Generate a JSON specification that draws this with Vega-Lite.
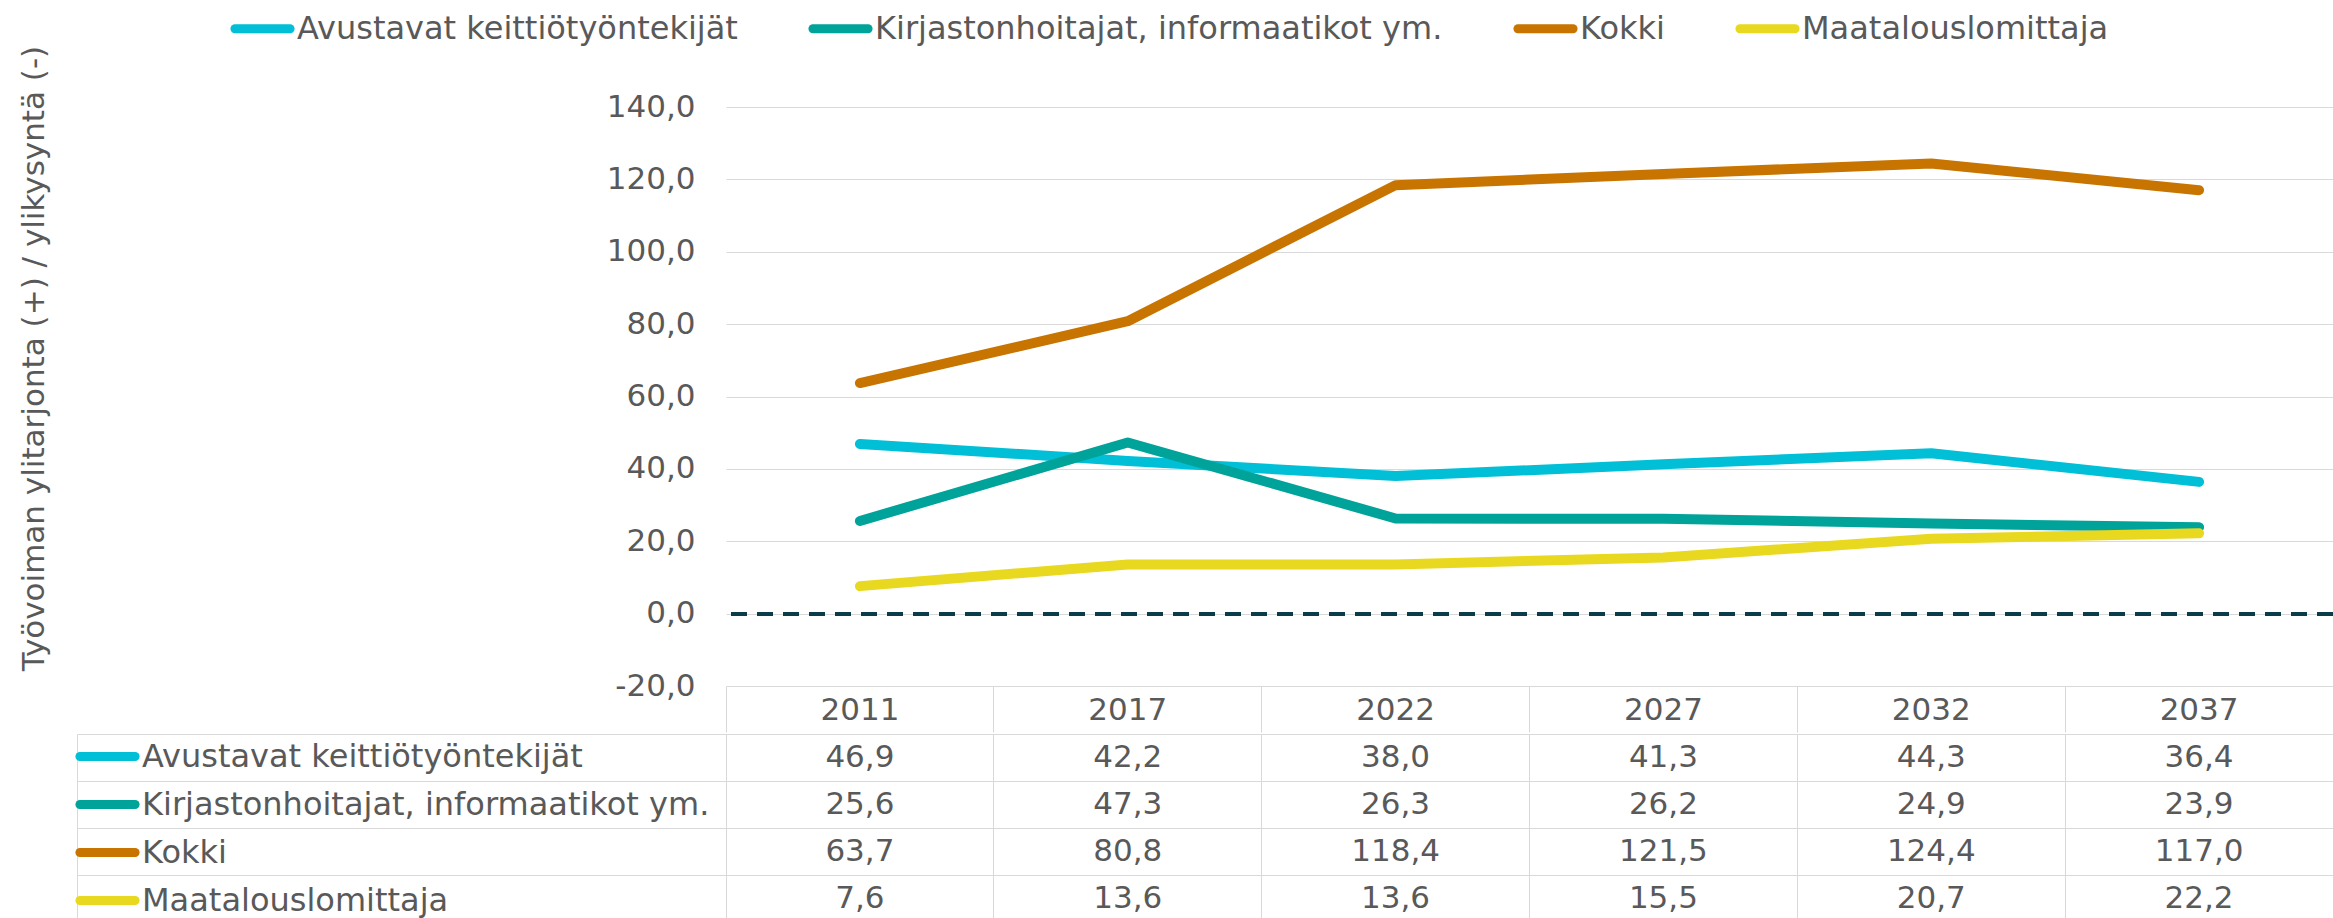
{
  "$schema": "https://vega.github.io/schema/vega-lite/v6.json",
  "padding": {"left": 18, "top": 10, "right": 0, "bottom": 0},
  "background": "white",
  "spacing": 0,
  "config": {
    "locale": {"number": {"decimal": ",", "thousands": " ", "grouping": [3], "currency": ["", " €"], "minus": "-"}},
    "view": {"stroke": null},
    "font": "DejaVu Sans"
  },
  "datasets": {
    "d": [
      {"series": "Avustavat keittiötyöntekijät", "year": "2011", "value": 46.9},
      {"series": "Avustavat keittiötyöntekijät", "year": "2017", "value": 42.2},
      {"series": "Avustavat keittiötyöntekijät", "year": "2022", "value": 38.0},
      {"series": "Avustavat keittiötyöntekijät", "year": "2027", "value": 41.3},
      {"series": "Avustavat keittiötyöntekijät", "year": "2032", "value": 44.3},
      {"series": "Avustavat keittiötyöntekijät", "year": "2037", "value": 36.4},
      {"series": "Kirjastonhoitajat, informaatikot ym.", "year": "2011", "value": 25.6},
      {"series": "Kirjastonhoitajat, informaatikot ym.", "year": "2017", "value": 47.3},
      {"series": "Kirjastonhoitajat, informaatikot ym.", "year": "2022", "value": 26.3},
      {"series": "Kirjastonhoitajat, informaatikot ym.", "year": "2027", "value": 26.2},
      {"series": "Kirjastonhoitajat, informaatikot ym.", "year": "2032", "value": 24.9},
      {"series": "Kirjastonhoitajat, informaatikot ym.", "year": "2037", "value": 23.9},
      {"series": "Kokki", "year": "2011", "value": 63.7},
      {"series": "Kokki", "year": "2017", "value": 80.8},
      {"series": "Kokki", "year": "2022", "value": 118.4},
      {"series": "Kokki", "year": "2027", "value": 121.5},
      {"series": "Kokki", "year": "2032", "value": 124.4},
      {"series": "Kokki", "year": "2037", "value": 117.0},
      {"series": "Maatalouslomittaja", "year": "2011", "value": 7.6},
      {"series": "Maatalouslomittaja", "year": "2017", "value": 13.6},
      {"series": "Maatalouslomittaja", "year": "2022", "value": 13.6},
      {"series": "Maatalouslomittaja", "year": "2027", "value": 15.5},
      {"series": "Maatalouslomittaja", "year": "2032", "value": 20.7},
      {"series": "Maatalouslomittaja", "year": "2037", "value": 22.2}
    ]
  },
  "resolve": {"legend": {"color": "independent"}},
  "vconcat": [
    {
      "width": 1607,
      "height": 579,
      "data": {"name": "d"},
      "layer": [
        {
          "mark": {"type": "line", "strokeWidth": 10, "strokeCap": "round", "strokeJoin": "round"},
          "encoding": {
            "x": {
              "field": "year", "type": "ordinal", "bandPosition": 0.5,
              "scale": {"type": "band", "paddingInner": 0, "paddingOuter": 0},
              "axis": {
                "title": null, "orient": "bottom", "bandPosition": 0, "domain": false,
                "ticks": true, "tickSize": 46, "tickColor": "#d9d9d9", "tickWidth": 1,
                "grid": false, "labelAngle": 0, "labelFontSize": 31, "labelColor": "#595959",
                "labelPadding": -22, "labelBaseline": "middle", "labelAlign": "center"
              }
            },
            "y": {
              "field": "value", "type": "quantitative",
              "scale": {"domain": [-20, 140], "nice": false, "zero": false},
              "axis": {
                "title": "Työvoiman ylitarjonta (+) / ylikysyntä (-)",
                "values": [-20, 0, 20, 40, 60, 80, 100, 120, 140],
                "format": ".1f", "grid": true, "gridColor": "#d9d9d9", "gridWidth": 1,
                "domain": false, "ticks": false, "labelFontSize": 31, "labelColor": "#595959",
                "labelPadding": 31, "titleFontSize": 31, "titleColor": "#595959",
                "titleFontWeight": "normal", "titleX": -692, "titleY": 251,
                "titleBaseline": "middle", "titleAngle": -90, "titleAlign": "center"
              }
            },
            "color": {
              "field": "series", "type": "nominal",
              "scale": {
                "domain": ["Avustavat keittiötyöntekijät", "Kirjastonhoitajat, informaatikot ym.", "Kokki", "Maatalouslomittaja"],
                "range": ["#00bfd6", "#00a399", "#c77400", "#e8d920"]
              },
              "legend": {
                "title": null, "orient": "none", "legendX": -482, "legendY": -97,
                "direction": "horizontal", "labelFontSize": 32, "labelColor": "#595959",
                "labelLimit": 1000, "symbolType": "M-2,0H2", "symbolSize": 760,
                "symbolStrokeWidth": 9, "labelOffset": 16, "columnPadding": 56, "padding": 0,
                "encode": {"symbols": {"update": {"strokeCap": {"value": "round"}}}}
              }
            }
          }
        },
        {
          "mark": {"type": "rule", "color": "#0b3c49", "strokeWidth": 3, "strokeDash": [16, 10]},
          "encoding": {"y": {"datum": 0, "type": "quantitative"}}
        }
      ]
    },
    {
      "width": 1607,
      "height": 188,
      "data": {"name": "d"},
      "layer": [
        {
          "mark": {"type": "text", "fontSize": 31, "color": "#595959"},
          "encoding": {
            "x": {
              "field": "year", "type": "ordinal", "bandPosition": 0.5,
              "scale": {"type": "band", "paddingInner": 0, "paddingOuter": 0},
              "axis": {"orient": "top", "title": null, "labels": false, "ticks": false, "domain": false, "grid": true, "gridColor": "#d9d9d9", "gridWidth": 1, "bandPosition": 0}
            },
            "y": {
              "field": "series", "type": "nominal", "bandPosition": 0.5,
              "scale": {"type": "band", "paddingInner": 0, "paddingOuter": 0},
              "axis": {"orient": "left", "title": null, "labels": false, "offset": 649, "domain": true, "domainColor": "#d9d9d9", "domainWidth": 1, "ticks": true, "tickSize": -2256, "tickColor": "#d9d9d9", "tickWidth": 1, "bandPosition": 0, "grid": false}
            },
            "text": {"field": "value", "type": "quantitative", "format": ".1f"}
          }
        },
        {
          "transform": [{"filter": "false"}],
          "mark": {"type": "line", "strokeWidth": 8},
          "encoding": {
            "color": {
              "field": "series", "type": "nominal",
              "scale": {
                "domain": ["Avustavat keittiötyöntekijät", "Kirjastonhoitajat, informaatikot ym.", "Kokki", "Maatalouslomittaja"],
                "range": ["#00bfd6", "#00a399", "#c77400", "#e8d920"]
              },
              "legend": {
                "title": null, "orient": "none", "legendX": -637, "legendY": 4,
                "direction": "vertical", "labelFontSize": 32, "labelColor": "#595959",
                "labelLimit": 1000, "symbolType": "M-2,0H2", "symbolSize": 760,
                "symbolStrokeWidth": 9, "labelOffset": 16, "rowPadding": 11, "padding": 0,
                "encode": {"symbols": {"update": {"strokeCap": {"value": "round"}}}}
              }
            }
          }
        }
      ]
    }
  ]
}
